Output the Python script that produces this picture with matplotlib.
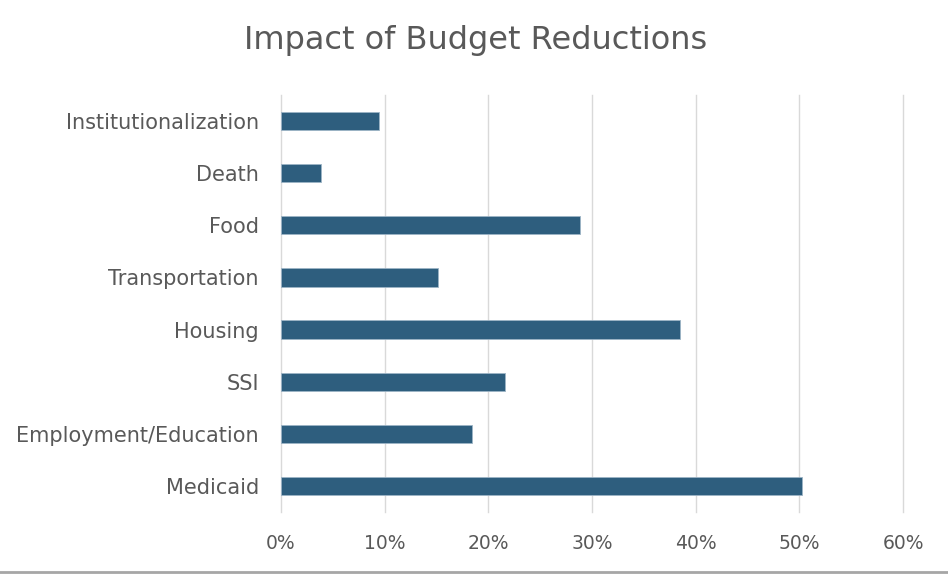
import matplotlib
matplotlib.use("Agg")
import matplotlib.pyplot as plt
from matplotlib.ticker import PercentFormatter

# categories listed top to bottom as in the chart
categories = ["Institutionalization", "Death", "Food", "Transportation",
              "Housing", "SSI", "Employment/Education", "Medicaid"]
values = [9.5, 3.9, 28.8, 15.1, 38.5, 21.6, 18.4, 50.3]
x_ticks = [0, 10, 20, 30, 40, 50, 60]

bar_color = "#2E5E7E"
text_color = "#595959"

fig = plt.figure(figsize=(9.48, 5.74), dpi=100)
ax = fig.add_axes([281 / 948, 1 - 512 / 574, (903 - 281) / 948, (512 - 95) / 574])

pos = list(range(len(categories)))[::-1]
ax.barh(pos, values, height=0.35, color=bar_color, edgecolor="#9DB4C6", linewidth=0.6, zorder=3)

ax.set_xlim(0, 60)
ax.set_ylim(-0.5, len(categories) - 0.5)
ax.set_xticks(x_ticks)
ax.xaxis.set_major_formatter(PercentFormatter(decimals=0))
ax.set_yticks(pos)
ax.set_yticklabels(categories)
ax.grid(axis="x", color="#D9D9D9", linewidth=1.0, zorder=0)
for gl in ax.get_xgridlines():
    gl.set_clip_on(False)
for s in ax.spines.values():
    s.set_visible(False)
ax.tick_params(length=0, labelcolor=text_color)
ax.tick_params(axis="y", pad=16, labelsize=15)
ax.tick_params(axis="x", pad=16, labelsize=13.5)

fig.text(476 / 948, 1 - 40 / 574, "Impact of Budget Reductions", ha="center", va="center",
         fontsize=23, color=text_color)

# thin border line along the bottom edge
fig.add_artist(plt.Line2D([0, 1], [0.004, 0.004], color="#A6A6A6", linewidth=2, transform=fig.transFigure))

fig.savefig("out.png", dpi=100)
